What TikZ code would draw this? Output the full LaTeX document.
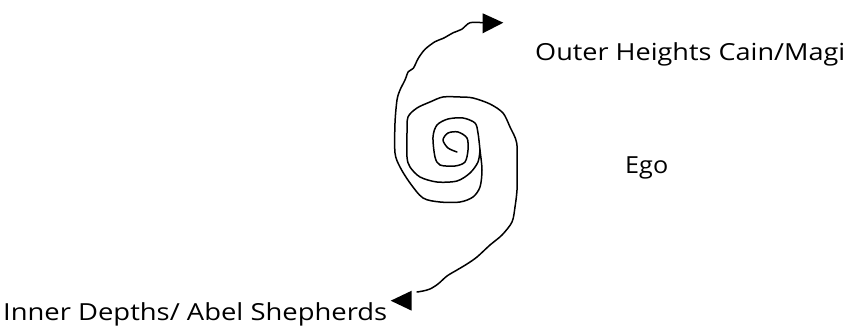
\documentclass[tikz,border=0pt]{standalone}
\usepackage{fontspec}
\setmainfont{Open Sans}
\begin{document}
\begin{tikzpicture}[x=1pt,y=-1pt,
  spiral/.style={line width=1.5pt, line join=round, line cap=round},
  lbl/.style={anchor=base west, inner sep=0pt, font=\fontsize{23.5}{28}\selectfont},
  arrowtip/.style={fill=black}]
\useasboundingbox (0,0) rectangle (846,331);
% arm from the top arrow down the left, inward to the centre
\draw[spiral] plot[smooth, tension=0.5] coordinates {
 (482.7,22.7) (470,22.7) (461.7,29.3) (453.3,32.7) (443.3,38.3) (435,41.7)
 (425,49.3) (418.3,58.3) (413.3,68.3) (408.3,71.7) (405,80) (400,90)
 (397,100) (395,123) (395,153) (400,167) (410,183) (423,198) (440,202)
 (460,202) (473,197) (480,187) (482,170) (480,150) (478,133) (475,123)
 (463,118) (448,119) (437,125) (433,137) (435,157) (440,165) (455,166)
 (465,162) (468,150) (467,138) (458,132) (448,133) (443,140) (448,148)
 (457,152)};
% arm from the bottom arrow up the right side, joining at the right
\draw[spiral] plot[smooth, tension=0.5] coordinates {
 (417,292) (423,291) (430,289) (438,284) (447,276) (457,270) (467,264)
 (477,257) (490,245) (502,235) (512,222) (515,207) (517,190) (517,170)
 (516.7,143) (510,127) (503,113) (490,104) (473,98) (460,97) (443,97)
 (430,102) (417,108) (408,117) (407,133) (407,157) (410,167) (420,177)
 (437,182) (457,181) (470,173) (478,162) (480,150)};
\fill[arrowtip] (482.7,13.3) -- (503.3,22.7) -- (482.7,33.3) -- cycle;
\fill[arrowtip] (411.7,290.7) -- (390.7,300.7) -- (411.7,310.7) -- cycle;
\node[lbl] (outer) at (535,61) {\resizebox{310pt}{\height}{Outer Heights Cain/Magi}};
\node[lbl] (ego) at (625,174) {\resizebox{43pt}{\height}{Ego}};
\node[lbl] (inner) at (3,320) {\resizebox{384pt}{\height}{Inner Depths/ Abel Shepherds}};
\end{tikzpicture}
\end{document}
